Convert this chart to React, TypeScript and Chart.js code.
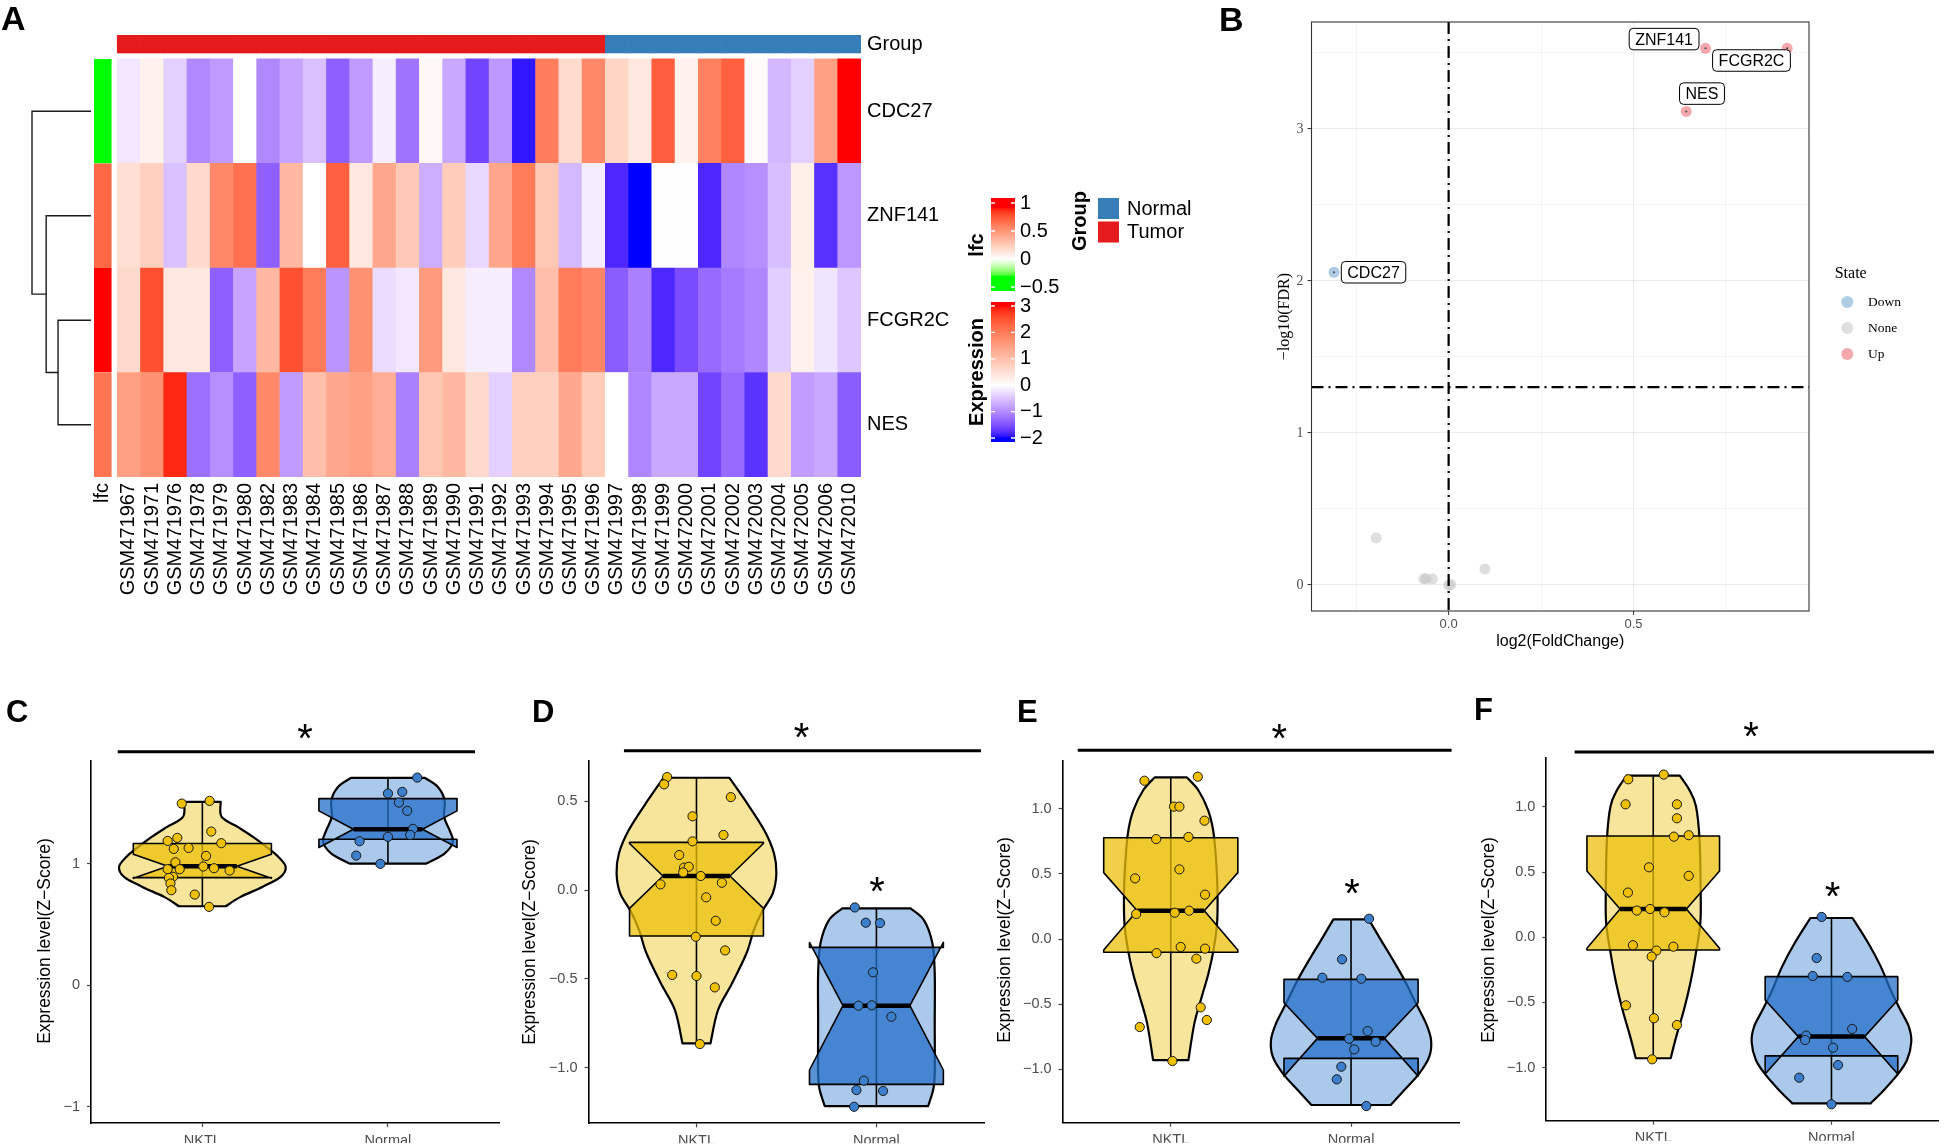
import React, { useEffect, useRef } from 'react';
import { Chart, registerables } from 'chart.js';

Chart.register(...registerables);

const SANS = '"Liberation Sans", Arial, Helvetica, sans-serif';
const SERIF = '"Liberation Serif", "Times New Roman", Times, serif';
Chart.defaults.font.family = SANS;

// ======================= Panel A : heatmap data =======================
const SAMPLES = ['GSM471967', 'GSM471971', 'GSM471976', 'GSM471978', 'GSM471979', 'GSM471980', 'GSM471982', 'GSM471983', 'GSM471984', 'GSM471985', 'GSM471986', 'GSM471987', 'GSM471988', 'GSM471989', 'GSM471990', 'GSM471991', 'GSM471992', 'GSM471993', 'GSM471994', 'GSM471995', 'GSM471996', 'GSM471997', 'GSM471998', 'GSM471999', 'GSM472000', 'GSM472001', 'GSM472002', 'GSM472003', 'GSM472004', 'GSM472005', 'GSM472006', 'GSM472010'];
const SAMPLE_GROUP = ['Tumor', 'Tumor', 'Tumor', 'Tumor', 'Tumor', 'Tumor', 'Tumor', 'Tumor', 'Tumor', 'Tumor', 'Tumor', 'Tumor', 'Tumor', 'Tumor', 'Tumor', 'Tumor', 'Tumor', 'Tumor', 'Tumor', 'Tumor', 'Tumor', 'Normal', 'Normal', 'Normal', 'Normal', 'Normal', 'Normal', 'Normal', 'Normal', 'Normal', 'Normal', 'Normal'];
const GENES = ['CDC27', 'ZNF141', 'FCGR2C', 'NES'];
const EXPR_CDC27 = [-0.2, 0.21, -0.4, -1.02, -0.86, 0, -1.02, -0.78, -0.54, -1.38, -0.86, -0.14, -1.2, 0.12, -0.74, -1.6, -0.88, -1.92, 1.95, 0.57, 1.8, 0.66, 0.36, 2.37, 0.21, 1.92, 2.34, 0.06, -0.62, -0.4, 1.47, 3.0];
const EXPR_ZNF141 = [0.5, 0.75, -0.54, 0.6, 1.8, 2.13, -1.38, 1.1, 0, 2.34, 0.36, 1.35, 0.84, -0.7, 0.8, -0.34, 1.38, 2.0, 0.85, -0.6, -0.16, -1.82, -2.0, -0.02, -0.02, -1.82, -1.04, -0.96, -0.56, 0.24, -1.76, -0.9];
const EXPR_FCGR2C = [0.6, 2.52, 0.36, 0.36, -1.38, -0.78, 1.1, 2.52, 2.0, -0.92, 1.68, -0.3, -0.2, 1.56, 0.36, -0.14, -0.14, -1.02, 1.0, 2.0, 1.83, -1.4, -1.1, -1.82, -1.54, -1.28, -1.14, -1.04, -0.42, 0.21, -0.22, -0.48];
const EXPR_NES = [1.47, 1.68, 2.85, -1.24, -0.96, -1.38, 1.8, -0.86, 1.0, 1.35, 1.47, 1.26, -1.1, 0.9, 1.1, 0.6, -0.4, 0.75, 0.75, 1.35, 0.8, 0, -1.04, -0.74, -0.74, -1.6, -1.28, -1.74, 0.6, -0.84, -0.74, -1.4];
const LFC = [-0.31, 0.69, 0.92, 0.64]; // CDC27, ZNF141, FCGR2C, NES
const EXPR_BREAKS = [-2, 0, 3];
const LFC_LEGEND_TICKS = [1, 0.5, 0, -0.5];
const EXPR_LEGEND_TICKS = [3, 2, 1, 0, -1, -2];
const GROUP_LEVELS = ['Normal', 'Tumor'];
// dendrogram merge heights: (FCGR2C,NES), (ZNF141,[..]), (CDC27,[..])
const DENDRO_HEIGHTS = [1.0, 1.36, 1.79];

// ======================= Panel B : volcano data =======================
const VOLCANO_LABEL = ['CDC27', 'ZNF141', 'FCGR2C', 'NES', '', '', '', '', '', '', ''];
const VOLCANO_LOG2FC = [-0.31, 0.695, 0.916, 0.643, -0.196, -0.067, -0.061, -0.044, 0.0, 0.006, 0.098];
const VOLCANO_NLOG10FDR = [2.057, 3.53, 3.53, 3.115, 0.31, 0.041, 0.041, 0.041, 0.0, 0.003, 0.105];
const VOLCANO_STATE = ['Down', 'Up', 'Up', 'Up', 'None', 'None', 'None', 'None', 'None', 'None', 'None'];
const STATE_LEVELS = ['Down', 'None', 'Up'];
const FDR_LINE = 1.301;
const FC_LINE = 0;
const VOLC_X_MAJOR = [0, 0.5];
const VOLC_X_MINOR = [-0.25, 0.25, 0.75];
const VOLC_Y_MAJOR = [0, 1, 2, 3];
const VOLC_Y_MINOR = [0.5, 1.5, 2.5, 3.5];

// ======================= Panels C-F : violin data =======================
const CATEGORIES = ['NKTL', 'Normal'];
// box summaries: [min, q1, notchLow, median, notchHigh, q3, max]
const C_NKTL_X = [0.889, 1.039, 1.048, 0.813, 0.865, 1.102, 0.846, 0.926, 1.020, 0.855, 1.005, 1.063, 0.813, 0.878, 1.147, 0.842, 0.820, 0.828, 0.833, 0.959, 1.036];
const C_NKTL_Y = [1.495, 1.517, 1.265, 1.188, 1.213, 1.169, 1.122, 1.130, 1.064, 1.012, 0.977, 0.963, 0.955, 0.955, 0.944, 0.892, 0.883, 0.837, 0.782, 0.746, 0.645];
const C_NORMAL_X = [2.158, 2.0, 2.077, 2.059, 2.104, 2.135, 2.120, 2.0, 1.847, 1.829, 1.959];
const C_NORMAL_Y = [1.709, 1.578, 1.591, 1.503, 1.435, 1.287, 1.237, 1.221, 1.185, 1.067, 0.999];
const C_NKTL_VIOLIN_Y = [1.509, 1.385, 1.303, 1.221, 1.139, 1.056, 0.974, 0.892, 0.809, 0.727, 0.650];
const C_NKTL_VIOLIN_W = [0.099, 0.104, 0.19, 0.273, 0.345, 0.41, 0.449, 0.422, 0.323, 0.206, 0.126];
const C_NORMAL_VIOLIN_Y = [1.706, 1.632, 1.523, 1.385, 1.276, 1.180, 1.084, 1.001];
const C_NORMAL_VIOLIN_W = [0.199, 0.269, 0.305, 0.303, 0.332, 0.350, 0.305, 0.206];
const C_NKTL_BOX = [0.650, 0.886, 0.880, 0.979, 1.078, 1.166, 1.509];
const C_NORMAL_BOX = [1.001, 1.201, 1.133, 1.284, 1.435, 1.536, 1.706];

const D_NKTL_X = [0.837, 0.820, 1.191, 0.978, 1.150, 0.978, 0.904, 0.931, 0.957, 0.926, 1.024, 0.800, 1.141, 1.054, 1.107, 0.996, 1.159, 0.865, 1.0, 1.102, 1.019];
const D_NKTL_Y = [0.636, 0.595, 0.523, 0.415, 0.310, 0.274, 0.197, 0.126, 0.131, 0.099, 0.079, 0.032, 0.041, -0.041, -0.173, -0.263, -0.340, -0.478, -0.484, -0.548, -0.867];
const D_NORMAL_X = [1.880, 1.941, 2.020, 1.981, 1.900, 1.974, 2.083, 1.930, 1.889, 2.037, 1.876];
const D_NORMAL_Y = [-0.098, -0.184, -0.186, -0.463, -0.651, -0.649, -0.713, -1.073, -1.126, -1.131, -1.220];
const D_NKTL_VIOLIN_Y = [0.632, 0.507, 0.338, 0.206, 0.094, -0.019, -0.113, -0.225, -0.356, -0.525, -0.675, -0.863];
const D_NKTL_VIOLIN_W = [0.183, 0.269, 0.376, 0.431, 0.444, 0.424, 0.369, 0.319, 0.278, 0.198, 0.120, 0.078];
const D_NORMAL_VIOLIN_Y = [-0.103, -0.169, -0.300, -0.469, -0.750, -1.032, -1.126, -1.216];
const D_NORMAL_VIOLIN_W = [0.189, 0.264, 0.311, 0.324, 0.324, 0.324, 0.315, 0.287];
const D_NKTL_BOX = [-0.863, -0.259, -0.103, 0.079, 0.262, 0.268, 0.632];
const D_NORMAL_BOX = [-1.216, -1.094, -1.013, -0.651, -0.295, -0.323, -0.103];

const E_NKTL_X = [0.854, 1.150, 1.018, 1.048, 1.187, 0.919, 1.098, 1.048, 0.802, 1.190, 0.808, 1.022, 1.102, 0.921, 1.055, 1.190, 1.142, 1.166, 1.200, 0.828, 1.009];
const E_NKTL_Y = [1.216, 1.247, 1.017, 1.017, 0.909, 0.768, 0.784, 0.535, 0.466, 0.341, 0.192, 0.202, 0.218, -0.108, -0.061, -0.074, -0.151, -0.525, -0.622, -0.676, -0.937];
const E_NORMAL_X = [2.100, 1.950, 1.841, 2.057, 2.092, 1.989, 2.137, 2.018, 1.946, 1.921, 2.085];
const E_NORMAL_Y = [0.156, -0.156, -0.297, -0.305, -0.707, -0.766, -0.789, -0.848, -0.981, -1.078, -1.283];
const E_NKTL_VIOLIN_Y = [1.242, 1.145, 0.991, 0.837, 0.633, 0.376, 0.120, -0.085, -0.264, -0.443, -0.648, -0.930];
const E_NKTL_VIOLIN_W = [0.089, 0.152, 0.207, 0.235, 0.250, 0.259, 0.257, 0.237, 0.209, 0.172, 0.131, 0.098];
const E_NORMAL_VIOLIN_Y = [0.151, -0.008, -0.136, -0.315, -0.494, -0.648, -0.776, -0.904, -1.032, -1.160, -1.275];
const E_NORMAL_VIOLIN_W = [0.098, 0.166, 0.222, 0.296, 0.360, 0.416, 0.444, 0.434, 0.379, 0.296, 0.220];
const E_NKTL_BOX = [-0.930, -0.102, -0.085, 0.218, 0.510, 0.778, 1.242];
const E_NORMAL_BOX = [-1.275, -0.917, -1.053, -0.763, -0.489, -0.310, 0.151];

const F_NKTL_X = [0.860, 1.059, 0.845, 1.133, 1.133, 1.116, 1.199, 0.976, 1.199, 0.858, 0.908, 0.982, 1.063, 0.886, 1.018, 1.113, 0.991, 0.847, 1.004, 1.133, 0.994];
const F_NKTL_Y = [1.212, 1.248, 1.020, 1.020, 0.913, 0.772, 0.783, 0.537, 0.471, 0.343, 0.205, 0.217, 0.192, -0.061, -0.102, -0.072, -0.148, -0.522, -0.621, -0.673, -0.936];
const F_NORMAL_X = [1.945, 1.917, 1.895, 2.089, 2.116, 1.858, 1.852, 2.009, 2.037, 1.819, 2.0];
const F_NORMAL_Y = [0.156, -0.159, -0.297, -0.304, -0.703, -0.754, -0.788, -0.847, -0.980, -1.077, -1.281];
const F_NKTL_VIOLIN_Y = [1.240, 1.130, 1.003, 0.747, 0.363, 0.107, -0.148, -0.353, -0.558, -0.762, -0.928];
const F_NKTL_VIOLIN_W = [0.149, 0.203, 0.240, 0.260, 0.266, 0.264, 0.236, 0.208, 0.172, 0.129, 0.098];
const F_NORMAL_VIOLIN_Y = [0.148, -0.046, -0.225, -0.404, -0.558, -0.685, -0.801, -0.941, -1.056, -1.171, -1.274];
const F_NORMAL_VIOLIN_W = [0.118, 0.207, 0.277, 0.332, 0.387, 0.434, 0.448, 0.424, 0.369, 0.295, 0.220];
const F_NKTL_BOX = [-0.928, -0.097, -0.084, 0.217, 0.509, 0.777, 1.240];
const F_NORMAL_BOX = [-1.274, -0.910, -1.049, -0.762, -0.481, -0.302, 0.148];

// significance annotations (data units)
const C_SIG = { x0: 0.544, x1: 2.469, y: 1.922, starX: 1.553, starY: 2.112 };
const D_SIG = { x0: 0.597, x1: 2.581, y: 0.784, starX: 1.584, starY: 0.912 };
const E_SIG = { x0: 0.484, x1: 2.558, y: 1.45, starX: 1.602, starY: 1.618 };
const F_SIG = { x0: 0.559, x1: 2.575, y: 1.421, starX: 1.549, starY: 1.611 };
const D_NORMAL_STAR = { x: 2.003, y: 0.047 };
const E_NORMAL_STAR = { x: 2.005, y: 0.428 };
const F_NORMAL_STAR = { x: 2.006, y: 0.389 };

// ======================= styles =======================
const GROUP_COLORS: any = { Tumor: '#e41a1c', Normal: '#377eb8' };
const STATE_COLORS: any = { Down: 'rgba(110,160,210,0.55)', None: 'rgba(200,200,200,0.6)', Up: 'rgba(235,95,105,0.55)' };
const YELLOW = { fill: '#f7e59b', box: 'rgba(236,192,10,0.75)', point: '#efc000' };
const BLUE = { fill: '#aac9eb', box: 'rgba(35,110,200,0.75)', point: '#3b7fcc' };
const GROUP_GAP = 0.057;
const GROUP_H = 0.172;
const LFC_GAP_PX = 6;
const BOX_HALF = 0.372;
const NOTCH_RATIO = 0.5;

// ======================= colour helpers (Lab interpolation) =======================
function toLin(c: number) { c /= 255; return c <= 0.04045 ? c / 12.92 : Math.pow((c + 0.055) / 1.055, 2.4); }
function fromLin(c: number) { c = Math.max(0, Math.min(1, c)); const v = c <= 0.0031308 ? 12.92 * c : 1.055 * Math.pow(c, 1 / 2.4) - 0.055; return Math.round(v * 255); }
function rgbToLab(rgb: number[]) {
  const R = toLin(rgb[0]), G = toLin(rgb[1]), B = toLin(rgb[2]);
  const X = (0.4124 * R + 0.3576 * G + 0.1805 * B) / 0.95047;
  const Y = 0.2126 * R + 0.7152 * G + 0.0722 * B;
  const Z = (0.0193 * R + 0.1192 * G + 0.9505 * B) / 1.08883;
  const f = (t: number) => (t > 0.008856 ? Math.cbrt(t) : 7.787 * t + 16 / 116);
  const fx = f(X), fy = f(Y), fz = f(Z);
  return [116 * fy - 16, 500 * (fx - fy), 200 * (fy - fz)];
}
function labToRgb(lab: number[]) {
  const fy = (lab[0] + 16) / 116, fx = fy + lab[1] / 500, fz = fy - lab[2] / 200;
  const inv = (t: number) => (t * t * t > 0.008856 ? t * t * t : (t - 16 / 116) / 7.787);
  const X = inv(fx) * 0.95047, Y = inv(fy), Z = inv(fz) * 1.08883;
  const R = 3.2406 * X - 1.5372 * Y - 0.4986 * Z;
  const G = -0.9689 * X + 1.8758 * Y + 0.0415 * Z;
  const B = 0.0557 * X - 0.204 * Y + 1.057 * Z;
  return `rgb(${fromLin(R)},${fromLin(G)},${fromLin(B)})`;
}
function colorRamp(breaks: number[], colors: number[][]) {
  const labs = colors.map(rgbToLab);
  return (v: number) => {
    if (v <= breaks[0]) return labToRgb(labs[0]);
    if (v >= breaks[breaks.length - 1]) return labToRgb(labs[labs.length - 1]);
    let i = 0;
    while (v > breaks[i + 1]) i++;
    const t = (v - breaks[i]) / (breaks[i + 1] - breaks[i]);
    return labToRgb(labs[i].map((c, k) => c + (labs[i + 1][k] - c) * t));
  };
}
const exprColor = colorRamp(EXPR_BREAKS, [[0, 0, 255], [255, 255, 255], [255, 0, 0]]);
const lfcColor = colorRamp([Math.min(...LFC), 0, Math.max(...LFC)], [[0, 255, 0], [255, 255, 255], [255, 0, 0]]);
const fmtMinus = (v: number, d?: number) => (v < 0 ? '\u2212' : '') + (d === undefined ? String(Math.abs(v)) : Math.abs(v).toFixed(d));

// ======================= generic canvas component =======================
function ChartBox({ left, top, w, h, build }: any) {
  const ref = useRef<HTMLCanvasElement>(null);
  useEffect(() => {
    if (!ref.current) return;
    const chart = new Chart(ref.current, build());
    return () => chart.destroy();
  }, []);
  return <canvas ref={ref} width={w} height={h} style={{ position: 'absolute', left, top, width: w, height: h }} />;
}

const baseOptions = () => ({
  responsive: false,
  animation: false,
  devicePixelRatio: 1,
  events: [],
  plugins: { legend: { display: false }, tooltip: { enabled: false }, title: { display: false } },
});

// ======================= Panel A : heatmap =======================
const HEAT_CANVAS = { left: 0, top: 0, w: 1260, h: 640 };
const HEAT_AREA = { left: 94, right: 861, top: 35, bottom: 477 };

function rotatedText(ctx: any, text: string, x: number, y: number, align: string) {
  ctx.save();
  ctx.translate(x, y);
  ctx.rotate(-Math.PI / 2);
  ctx.textAlign = align;
  ctx.textBaseline = 'middle';
  ctx.fillText(text, 0, 0);
  ctx.restore();
}

const heatmapPlugin = {
  id: 'heatmapText',
  afterDraw(chart: any) {
    const { ctx, chartArea } = chart;
    const xs = chart.scales.x, ys = chart.scales.y;
    ctx.save();
    ctx.fillStyle = '#000';
    ctx.font = `bold 34px ${SANS}`;
    ctx.textAlign = 'left';
    ctx.textBaseline = 'alphabetic';
    ctx.fillText('A', 1, 30);

    ctx.font = `20px ${SANS}`;
    const labels = ['lfc', ...SAMPLES];
    labels.forEach((lab, i) => {
      const cx = xs.getPixelForValue(i) - (i === 0 ? LFC_GAP_PX / 2 : 0);
      rotatedText(ctx, lab, cx, ys.getPixelForValue(0) + 6, 'right');
    });
    ctx.textAlign = 'left';
    ctx.textBaseline = 'middle';
    GENES.forEach((g, r) => ctx.fillText(g, chartArea.right + 6, ys.getPixelForValue(GENES.length - r - 0.5)));
    ctx.fillText('Group', chartArea.right + 6, ys.getPixelForValue(GENES.length + GROUP_GAP + GROUP_H / 2));

    // ---- colour bar legends ----
    const barL = 991, barR = 1015;
    const drawBar = (top: number, bottom: number, v0: number, y0: number, ppu: number, fn: any, ticks: number[]) => {
      for (let py = top; py < bottom; py++) {
        const v = v0 - (py + 0.5 - y0) / ppu;
        ctx.fillStyle = fn(v);
        ctx.fillRect(barL, py, barR - barL, 1);
      }
      ctx.strokeStyle = '#ffffff';
      ctx.lineWidth = 1.3;
      ticks.forEach((t) => {
        const py = y0 + (v0 - t) * ppu;
        ctx.beginPath();
        ctx.moveTo(barL, py); ctx.lineTo(barL + 4, py);
        ctx.moveTo(barR - 4, py); ctx.lineTo(barR, py);
        ctx.stroke();
        ctx.fillStyle = '#000';
        ctx.font = `20px ${SANS}`;
        ctx.textAlign = 'left';
        ctx.textBaseline = 'middle';
        ctx.fillText(fmtMinus(t), barR + 5, py);
      });
    };
    drawBar(198, 291, LFC_LEGEND_TICKS[0], 203, 56, lfcColor, LFC_LEGEND_TICKS);
    drawBar(302, 442, EXPR_LEGEND_TICKS[0], 306, 26.4, exprColor, EXPR_LEGEND_TICKS);
    ctx.fillStyle = '#000';
    ctx.font = `bold 20px ${SANS}`;
    rotatedText(ctx, 'lfc', 977, 245, 'center');
    rotatedText(ctx, 'Expression', 977, 372, 'center');
    rotatedText(ctx, 'Group', 1080, 221, 'center');
    GROUP_LEVELS.forEach((g, i) => {
      ctx.fillStyle = GROUP_COLORS[g];
      ctx.fillRect(1098, 198 + i * 23.5, 21, 21);
      ctx.fillStyle = '#000';
      ctx.font = `20px ${SANS}`;
      ctx.textAlign = 'left';
      ctx.textBaseline = 'middle';
      ctx.fillText(g, 1127, 209 + i * 23.5);
    });
    ctx.restore();
  },
};

function buildHeatmap() {
  const exprByGene: any = { CDC27: EXPR_CDC27, ZNF141: EXPR_ZNF141, FCGR2C: EXPR_FCGR2C, NES: EXPR_NES };
  const bottomUp = [...GENES].reverse();
  const datasets: any[] = [];
  bottomUp.forEach((g) => {
    const vals = exprByGene[g];
    datasets.push({ label: g, data: [null, ...vals.map(() => 1)], backgroundColor: ['rgba(0,0,0,0)', ...vals.map(exprColor)], borderWidth: 0 });
  });
  bottomUp.forEach((g) => {
    const v = LFC[GENES.indexOf(g)];
    datasets.push({
      label: 'lfc ' + g,
      data: [1, ...SAMPLES.map(() => null)],
      backgroundColor: lfcColor(v),
      borderColor: '#ffffff',
      borderWidth: { top: 0, bottom: 0, left: 0, right: LFC_GAP_PX },
      borderSkipped: false,
    });
  });
  datasets.push({ label: 'gap', data: [null, ...SAMPLES.map(() => GROUP_GAP)], backgroundColor: 'rgba(0,0,0,0)', borderWidth: 0 });
  datasets.push({ label: 'Group', data: [null, ...SAMPLES.map(() => GROUP_H)], backgroundColor: ['rgba(0,0,0,0)', ...SAMPLE_GROUP.map((g) => GROUP_COLORS[g])], borderWidth: 0 });
  return {
    type: 'bar',
    data: { labels: ['lfc', ...SAMPLES], datasets },
    options: {
      ...baseOptions(),
      layout: {
        padding: {
          left: HEAT_AREA.left - HEAT_CANVAS.left,
          right: HEAT_CANVAS.left + HEAT_CANVAS.w - HEAT_AREA.right,
          top: HEAT_AREA.top - HEAT_CANVAS.top,
          bottom: HEAT_CANVAS.top + HEAT_CANVAS.h - HEAT_AREA.bottom,
        },
      },
      datasets: { bar: { barPercentage: 1, categoryPercentage: 1 } },
      scales: {
        x: { type: 'category', stacked: true, display: false, offset: true },
        y: { type: 'linear', stacked: true, display: false, min: 0, max: GENES.length + GROUP_GAP + GROUP_H },
      },
    },
    plugins: [heatmapPlugin],
  };
}

// ======================= Panel A : dendrogram =======================
const DENDRO_CANVAS = { left: 20, top: 59, w: 80, h: 418 };
function buildDendrogram() {
  const pos: any = {};
  GENES.forEach((g, i) => (pos[g] = i + 0.5));
  const [h1, h2, h3] = DENDRO_HEIGHTS;
  const m1 = (pos.FCGR2C + pos.NES) / 2;
  const m2 = (pos.ZNF141 + m1) / 2;
  const segs = [
    [[0, pos.FCGR2C], [h1, pos.FCGR2C], [h1, pos.NES], [0, pos.NES]],
    [[0, pos.ZNF141], [h2, pos.ZNF141], [h2, m1], [h1, m1]],
    [[0, pos.CDC27], [h3, pos.CDC27], [h3, m2], [h2, m2]],
  ];
  return {
    type: 'scatter',
    data: {
      datasets: segs.map((s) => ({
        data: s.map(([x, y]) => ({ x, y })),
        showLine: true,
        borderColor: '#1a1a1a',
        borderWidth: 1.4,
        pointRadius: 0,
        tension: 0,
        fill: false,
        clip: false,
      })),
    },
    options: {
      ...baseOptions(),
      layout: { padding: { left: 12, right: 9, top: 0, bottom: 0 } },
      scales: {
        x: { type: 'linear', display: false, reverse: true, min: 0, max: h3 },
        y: { type: 'linear', display: false, reverse: true, min: 0, max: GENES.length },
      },
    },
  };
}

// ======================= Panel B : volcano =======================
const VOLC_CANVAS = { left: 1200, top: 0, w: 744, h: 660 };
const VOLC_AREA = { left: 1311.5, right: 1809, top: 22, bottom: 611 };
const VOLC_LABEL_OFFSET: any = { CDC27: [39.5, 0], ZNF141: [-41.4, -9.2], FCGR2C: [-35.7, 12.2], NES: [15.7, -17.8] };

function roundRectPath(ctx: any, x: number, y: number, w: number, h: number, r: number) {
  ctx.beginPath();
  ctx.moveTo(x + r, y);
  ctx.lineTo(x + w - r, y);
  ctx.quadraticCurveTo(x + w, y, x + w, y + r);
  ctx.lineTo(x + w, y + h - r);
  ctx.quadraticCurveTo(x + w, y + h, x + w - r, y + h);
  ctx.lineTo(x + r, y + h);
  ctx.quadraticCurveTo(x, y + h, x, y + h - r);
  ctx.lineTo(x, y + r);
  ctx.quadraticCurveTo(x, y, x + r, y);
  ctx.closePath();
}

const volcanoPlugin = {
  id: 'volcanoExtras',
  afterDatasetsDraw(chart: any) {
    const { ctx, chartArea: a } = chart;
    const xs = chart.scales.x, ys = chart.scales.y;
    ctx.save();
    ctx.strokeStyle = '#000';
    ctx.lineWidth = 2.2;
    ctx.setLineDash([12, 5, 2, 5]);
    const vx = xs.getPixelForValue(FC_LINE);
    ctx.beginPath(); ctx.moveTo(vx, a.top); ctx.lineTo(vx, a.bottom); ctx.stroke();
    const hy = ys.getPixelForValue(FDR_LINE);
    ctx.beginPath(); ctx.moveTo(a.left, hy); ctx.lineTo(a.right, hy); ctx.stroke();
    ctx.setLineDash([]);

    VOLCANO_LABEL.forEach((lab, i) => {
      if (!lab) return;
      const px = xs.getPixelForValue(VOLCANO_LOG2FC[i]);
      const py = ys.getPixelForValue(VOLCANO_NLOG10FDR[i]);
      ctx.fillStyle = '#444';
      ctx.beginPath(); ctx.arc(px, py, 1, 0, Math.PI * 2); ctx.fill();
      const [dx, dy] = VOLC_LABEL_OFFSET[lab];
      ctx.font = `16px ${SANS}`;
      const tw = ctx.measureText(lab).width;
      const bw = tw + 12, bh = 21.5;
      roundRectPath(ctx, px + dx - bw / 2, py + dy - bh / 2, bw, bh, 4);
      ctx.fillStyle = '#fff';
      ctx.fill();
      ctx.strokeStyle = '#000';
      ctx.lineWidth = 1;
      ctx.stroke();
      ctx.fillStyle = '#000';
      ctx.textAlign = 'center';
      ctx.textBaseline = 'middle';
      ctx.fillText(lab, px + dx, py + dy + 1);
    });

    ctx.strokeStyle = '#333';
    ctx.lineWidth = 1.1;
    ctx.strokeRect(a.left, a.top, a.right - a.left, a.bottom - a.top);
    ctx.restore();
  },
  afterDraw(chart: any) {
    const { ctx, chartArea: a } = chart;
    const ox = VOLC_CANVAS.left, oy = VOLC_CANVAS.top;
    ctx.save();
    ctx.fillStyle = '#000';
    ctx.font = `bold 34px ${SANS}`;
    ctx.textAlign = 'left';
    ctx.textBaseline = 'alphabetic';
    ctx.fillText('B', 1219 - ox, 31 - oy);

    ctx.font = `16px ${SANS}`;
    ctx.textAlign = 'center';
    ctx.textBaseline = 'middle';
    ctx.fillText('log2(FoldChange)', (a.left + a.right) / 2, 642 - oy);
    ctx.font = `16px ${SERIF}`;
    rotatedText(ctx, '\u2212log10(FDR)', 1285 - ox, (a.top + a.bottom) / 2, 'center');

    ctx.textAlign = 'left';
    ctx.font = `16px ${SERIF}`;
    ctx.fillText('State', 1834.7 - ox, 274 - oy);
    STATE_LEVELS.forEach((s, i) => {
      const y = 302 + i * 26 - oy;
      ctx.fillStyle = STATE_COLORS[s];
      ctx.beginPath(); ctx.arc(1847.3 - ox, y, 6, 0, Math.PI * 2); ctx.fill();
      ctx.fillStyle = '#000';
      ctx.font = `13.5px ${SERIF}`;
      ctx.fillText(s, 1868 - ox, y);
    });
    ctx.restore();
  },
};

function buildVolcano() {
  const YW = 40, XH = 30;
  const pad = {
    left: VOLC_AREA.left - VOLC_CANVAS.left - YW,
    right: VOLC_CANVAS.left + VOLC_CANVAS.w - VOLC_AREA.right,
    top: VOLC_AREA.top - VOLC_CANVAS.top,
    bottom: VOLC_CANVAS.top + VOLC_CANVAS.h - VOLC_AREA.bottom - XH,
  };
  const xTicks = [...VOLC_X_MAJOR, ...VOLC_X_MINOR].sort((p, q) => p - q);
  const yTicks = [...VOLC_Y_MAJOR, ...VOLC_Y_MINOR].sort((p, q) => p - q);
  const isMajorX = (v: number) => VOLC_X_MAJOR.includes(v);
  const isMajorY = (v: number) => VOLC_Y_MAJOR.includes(v);
  const datasets = STATE_LEVELS.map((s) => ({
    label: s,
    data: VOLCANO_STATE.map((st, i) => (st === s ? { x: VOLCANO_LOG2FC[i], y: VOLCANO_NLOG10FDR[i] } : null)).filter((d) => d),
    pointRadius: 5.5,
    pointBackgroundColor: STATE_COLORS[s],
    pointBorderWidth: 0,
    clip: false,
  }));
  return {
    type: 'scatter',
    data: { datasets },
    options: {
      ...baseOptions(),
      layout: { padding: pad },
      scales: {
        x: {
          type: 'linear', min: -0.371, max: 0.975,
          afterBuildTicks: (s: any) => { s.ticks = xTicks.map((v) => ({ value: v })); },
          afterFit: (s: any) => { s.height = XH; },
          ticks: { autoSkip: false, maxRotation: 0, padding: 2, color: '#4d4d4d', font: { family: SANS, size: 13 }, callback: (v: number) => (isMajorX(v) ? v.toFixed(1) : '') },
          grid: {
            color: '#ebebeb',
            lineWidth: (c: any) => (c.tick && isMajorX(c.tick.value) ? 1.1 : 0.55),
            tickColor: (c: any) => (c.tick && isMajorX(c.tick.value) ? '#333' : 'rgba(0,0,0,0)'),
            tickLength: 4, tickWidth: 1,
          },
          border: { display: false },
        },
        y: {
          type: 'linear', min: -0.171, max: 3.703,
          afterBuildTicks: (s: any) => { s.ticks = yTicks.map((v) => ({ value: v })); },
          afterFit: (s: any) => { s.width = YW; },
          ticks: { autoSkip: false, padding: 4, color: '#4d4d4d', font: { family: SERIF, size: 14 }, callback: (v: number) => (isMajorY(v) ? String(v) : '') },
          grid: {
            color: '#ebebeb',
            lineWidth: (c: any) => (c.tick && isMajorY(c.tick.value) ? 1.1 : 0.55),
            tickColor: (c: any) => (c.tick && isMajorY(c.tick.value) ? '#333' : 'rgba(0,0,0,0)'),
            tickLength: 4, tickWidth: 1,
          },
          border: { display: false },
        },
      },
    },
    plugins: [volcanoPlugin],
  };
}

// ======================= Panels C-F : violins =======================
function mkGroup(name: string, center: number, px: number[], py: number[], vy: number[], vw: number[], box: number[], style: any) {
  return { name, center, px, py, vy, vw, box, style };
}

const PANELS: any[] = [
  {
    letter: 'C', letterPos: [6, 722], titlePos: [45, 941],
    canvas: { left: 0, top: 690, w: 505, h: 458 }, area: { left: 91, right: 499.3, top: 760.7, bottom: 1123 },
    yMin: -1.134, yMax: 1.848, yTicks: [-1, 0, 1], decimals: 0, sig: C_SIG, normalStar: null,
    groups: [
      mkGroup('NKTL', 1, C_NKTL_X, C_NKTL_Y, C_NKTL_VIOLIN_Y, C_NKTL_VIOLIN_W, C_NKTL_BOX, YELLOW),
      mkGroup('Normal', 2, C_NORMAL_X, C_NORMAL_Y, C_NORMAL_VIOLIN_Y, C_NORMAL_VIOLIN_W, C_NORMAL_BOX, BLUE),
    ],
  },
  {
    letter: 'D', letterPos: [532, 722], titlePos: [530, 942],
    canvas: { left: 505, top: 690, w: 485, h: 458 }, area: { left: 588.5, right: 984.7, top: 760.7, bottom: 1123.3 },
    yMin: -1.313, yMax: 0.728, yTicks: [-1, -0.5, 0, 0.5], decimals: 1, sig: D_SIG, normalStar: D_NORMAL_STAR,
    groups: [
      mkGroup('NKTL', 1, D_NKTL_X, D_NKTL_Y, D_NKTL_VIOLIN_Y, D_NKTL_VIOLIN_W, D_NKTL_BOX, YELLOW),
      mkGroup('Normal', 2, D_NORMAL_X, D_NORMAL_Y, D_NORMAL_VIOLIN_Y, D_NORMAL_VIOLIN_W, D_NORMAL_BOX, BLUE),
    ],
  },
  {
    letter: 'E', letterPos: [1017, 722], titlePos: [1005, 940],
    canvas: { left: 990, top: 690, w: 480, h: 458 }, area: { left: 1062.6, right: 1459.2, top: 760.7, bottom: 1122.7 },
    yMin: -1.411, yMax: 1.37, yTicks: [-1, -0.5, 0, 0.5, 1], decimals: 1, sig: E_SIG, normalStar: E_NORMAL_STAR,
    groups: [
      mkGroup('NKTL', 1, E_NKTL_X, E_NKTL_Y, E_NKTL_VIOLIN_Y, E_NKTL_VIOLIN_W, E_NKTL_BOX, YELLOW),
      mkGroup('Normal', 2, E_NORMAL_X, E_NORMAL_Y, E_NORMAL_VIOLIN_Y, E_NORMAL_VIOLIN_W, E_NORMAL_BOX, BLUE),
    ],
  },
  {
    letter: 'F', letterPos: [1474, 720], titlePos: [1489, 940],
    canvas: { left: 1470, top: 690, w: 474, h: 458 }, area: { left: 1546.3, right: 1943.4, top: 758.3, bottom: 1120.7 },
    yMin: -1.407, yMax: 1.373, yTicks: [-1, -0.5, 0, 0.5, 1], decimals: 1, sig: F_SIG, normalStar: F_NORMAL_STAR,
    groups: [
      mkGroup('NKTL', 1, F_NKTL_X, F_NKTL_Y, F_NKTL_VIOLIN_Y, F_NKTL_VIOLIN_W, F_NKTL_BOX, YELLOW),
      mkGroup('Normal', 2, F_NORMAL_X, F_NORMAL_Y, F_NORMAL_VIOLIN_Y, F_NORMAL_VIOLIN_W, F_NORMAL_BOX, BLUE),
    ],
  },
];

function smoothThrough(ctx: any, pts: number[][], move: boolean) {
  if (move) ctx.moveTo(pts[0][0], pts[0][1]);
  else ctx.lineTo(pts[0][0], pts[0][1]);
  for (let i = 0; i < pts.length - 1; i++) {
    const p0 = pts[Math.max(0, i - 1)], p1 = pts[i], p2 = pts[i + 1], p3 = pts[Math.min(pts.length - 1, i + 2)];
    const c1x = p1[0] + (p2[0] - p0[0]) / 6, c1y = p1[1] + (p2[1] - p0[1]) / 6;
    const c2x = p2[0] - (p3[0] - p1[0]) / 6, c2y = p2[1] - (p3[1] - p1[1]) / 6;
    ctx.bezierCurveTo(c1x, c1y, c2x, c2y, p2[0], p2[1]);
  }
}

function drawStar(ctx: any, x: number, yCenter: number, size: number) {
  ctx.font = `${size}px ${SANS}`;
  ctx.textAlign = 'center';
  ctx.textBaseline = 'alphabetic';
  ctx.fillText('*', x, yCenter + size * 0.58);
}

function violinPlugin(p: any) {
  return {
    id: 'violins' + p.letter,
    beforeDatasetsDraw(chart: any) {
      const { ctx } = chart;
      const xs = chart.scales.x, ys = chart.scales.y;
      const X = (v: number) => xs.getPixelForValue(v);
      const Y = (v: number) => ys.getPixelForValue(v);
      p.groups.forEach((g: any) => {
        ctx.save();
        ctx.strokeStyle = '#000';
        ctx.lineJoin = 'round';
        // violin
        const left = g.vy.map((y: number, i: number) => [X(g.center - g.vw[i]), Y(y)]);
        const right = g.vy.map((y: number, i: number) => [X(g.center + g.vw[i]), Y(y)]).reverse();
        ctx.beginPath();
        smoothThrough(ctx, left, true);
        smoothThrough(ctx, right, false);
        ctx.closePath();
        ctx.fillStyle = g.style.fill;
        ctx.fill();
        ctx.lineWidth = 2.2;
        ctx.stroke();
        // whisker
        const [mn, q1, nlo, med, nhi, q3, mx] = g.box;
        ctx.beginPath();
        ctx.moveTo(X(g.center), Y(mx));
        ctx.lineTo(X(g.center), Y(mn));
        ctx.lineWidth = 1.6;
        ctx.stroke();
        // notched box
        const hw = BOX_HALF, nw = BOX_HALF * NOTCH_RATIO;
        const poly = [[-hw, q3], [-hw, nhi], [-nw, med], [-hw, nlo], [-hw, q1], [hw, q1], [hw, nlo], [nw, med], [hw, nhi], [hw, q3]];
        ctx.beginPath();
        poly.forEach(([dx, v], i) => (i ? ctx.lineTo(X(g.center + dx), Y(v)) : ctx.moveTo(X(g.center + dx), Y(v))));
        ctx.closePath();
        ctx.fillStyle = g.style.box;
        ctx.fill();
        ctx.lineWidth = 1.6;
        ctx.stroke();
        // median
        ctx.beginPath();
        ctx.moveTo(X(g.center - nw), Y(med));
        ctx.lineTo(X(g.center + nw), Y(med));
        ctx.lineWidth = 4.5;
        ctx.lineCap = 'butt';
        ctx.stroke();
        ctx.restore();
      });
    },
    afterDraw(chart: any) {
      const { ctx } = chart;
      const xs = chart.scales.x, ys = chart.scales.y;
      const ox = p.canvas.left, oy = p.canvas.top;
      ctx.save();
      ctx.strokeStyle = '#000';
      ctx.fillStyle = '#000';
      ctx.lineWidth = 3;
      ctx.beginPath();
      ctx.moveTo(xs.getPixelForValue(p.sig.x0), ys.getPixelForValue(p.sig.y));
      ctx.lineTo(xs.getPixelForValue(p.sig.x1), ys.getPixelForValue(p.sig.y));
      ctx.stroke();
      drawStar(ctx, xs.getPixelForValue(p.sig.starX), ys.getPixelForValue(p.sig.starY), 40);
      if (p.normalStar) drawStar(ctx, xs.getPixelForValue(p.normalStar.x), ys.getPixelForValue(p.normalStar.y), 40);
      ctx.font = `bold 31px ${SANS}`;
      ctx.textAlign = 'left';
      ctx.textBaseline = 'alphabetic';
      ctx.fillText(p.letter, p.letterPos[0] - ox, p.letterPos[1] - oy);
      ctx.font = `17.5px ${SANS}`;
      rotatedText(ctx, 'Expression level(Z\u2212Score)', p.titlePos[0] - ox, p.titlePos[1] - oy, 'center');
      ctx.restore();
    },
  };
}

function buildViolin(p: any) {
  const YW = 40, XH = 20;
  const pad = {
    left: p.area.left - p.canvas.left - YW,
    right: p.canvas.left + p.canvas.w - p.area.right,
    top: p.area.top - p.canvas.top,
    bottom: p.canvas.top + p.canvas.h - p.area.bottom - XH,
  };
  return {
    type: 'scatter',
    data: {
      datasets: p.groups.map((g: any) => ({
        label: g.name,
        data: g.px.map((x: number, i: number) => ({ x, y: g.py[i] })),
        pointRadius: 4.6,
        pointBackgroundColor: g.style.point,
        pointBorderColor: '#1a1a1a',
        pointBorderWidth: 1,
        clip: false,
      })),
    },
    options: {
      ...baseOptions(),
      layout: { padding: pad },
      scales: {
        x: {
          type: 'linear', min: 0.4, max: 2.6,
          afterBuildTicks: (s: any) => { s.ticks = CATEGORIES.map((_, i) => ({ value: i + 1 })); },
          afterFit: (s: any) => { s.height = XH; },
          ticks: { autoSkip: false, maxRotation: 0, padding: 5, color: '#4d4d4d', font: { family: SANS, size: 14.5 }, callback: (v: number) => CATEGORIES[Math.round(v) - 1] },
          grid: { display: true, drawOnChartArea: false, drawTicks: true, tickLength: 4, tickColor: '#444', tickWidth: 1.2 },
          border: { display: true, color: '#000', width: 1.6 },
        },
        y: {
          type: 'linear', min: p.yMin, max: p.yMax,
          afterBuildTicks: (s: any) => { s.ticks = p.yTicks.map((v: number) => ({ value: v })); },
          afterFit: (s: any) => { s.width = YW; },
          ticks: { autoSkip: false, padding: 7, color: '#4d4d4d', font: { family: SANS, size: 14.5 }, callback: (v: number) => fmtMinus(v, p.decimals) },
          grid: { display: true, drawOnChartArea: false, drawTicks: true, tickLength: 4, tickColor: '#444', tickWidth: 1.2 },
          border: { display: true, color: '#000', width: 1.6 },
        },
      },
    },
    plugins: [violinPlugin(p)],
  };
}

// ======================= App =======================
export default function App() {
  useEffect(() => {
    document.body.style.margin = '0';
  }, []);
  return (
    <div style={{ position: 'fixed', left: 0, top: 0, width: 1944, height: 1148, background: '#ffffff', overflow: 'hidden' }}>
      <ChartBox left={HEAT_CANVAS.left} top={HEAT_CANVAS.top} w={HEAT_CANVAS.w} h={HEAT_CANVAS.h} build={buildHeatmap} />
      <ChartBox left={DENDRO_CANVAS.left} top={DENDRO_CANVAS.top} w={DENDRO_CANVAS.w} h={DENDRO_CANVAS.h} build={buildDendrogram} />
      <ChartBox left={VOLC_CANVAS.left} top={VOLC_CANVAS.top} w={VOLC_CANVAS.w} h={VOLC_CANVAS.h} build={buildVolcano} />
      {PANELS.map((p) => (
        <ChartBox key={p.letter} left={p.canvas.left} top={p.canvas.top} w={p.canvas.w} h={p.canvas.h} build={() => buildViolin(p)} />
      ))}
    </div>
  );
}
